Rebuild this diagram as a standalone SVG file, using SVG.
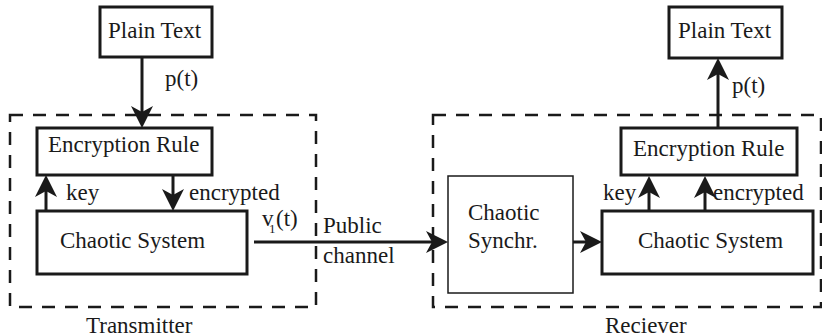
<svg xmlns="http://www.w3.org/2000/svg" width="822" height="336" viewBox="0 0 822 336">
<style>
text{font-family:'Liberation Serif','Times New Roman','DejaVu Serif',serif;font-size:23px;fill:#1a1a1a}
.box{fill:#fff;stroke:#1a1a1a;stroke-width:3}
.thin{fill:#fff;stroke:#1a1a1a;stroke-width:1.5}
.dash{fill:none;stroke:#1a1a1a;stroke-width:2.5;stroke-dasharray:13 10}
.conn line{stroke:#1a1a1a;stroke-width:3}
.conn polygon{fill:#1a1a1a;stroke:none}
</style>
<rect width="822" height="336" fill="#fff"/>
<g id="transmitter">
<rect class="dash" x="10" y="115" width="306" height="192"/>
<text x="86" y="333">Transmitter</text>
</g>
<g id="receiver">
<rect class="dash" x="433" y="115" width="388" height="192"/>
<text x="605" y="333">Reciever</text>
</g>
<g id="tx_plain"><rect class="box" x="100" y="7" width="112" height="50"/><text x="108" y="38">Plain Text</text></g>
<g id="tx_enc"><rect class="box" x="37" y="128" width="175" height="47"/><text x="48" y="152">Encryption Rule</text></g>
<g id="tx_chaos"><rect class="box" x="37" y="211" width="210" height="63"/><text x="60" y="248">Chaotic System</text></g>
<g id="rx_plain"><rect class="box" x="669" y="7" width="113" height="51"/><text x="678" y="38">Plain Text</text></g>
<g id="rx_enc"><rect class="box" x="621" y="128" width="176" height="47"/><text x="633" y="156">Encryption Rule</text></g>
<g id="rx_synch"><rect class="thin" x="448" y="176" width="125" height="117"/><text x="468" y="220">Chaotic</text><text x="468" y="248">Synchr.</text></g>
<g id="rx_chaos"><rect class="box" x="602" y="211" width="211" height="63"/><text x="638" y="248">Chaotic System</text></g>
<g id="connectors" class="conn">
<line x1="142" y1="57" x2="142" y2="114"/>
<polygon points="142,128 131,106 142,112 153,106"/>
<line x1="46" y1="211" x2="46" y2="189"/>
<polygon points="46,175 35,197 46,191 57,197"/>
<line x1="173" y1="175" x2="173" y2="197"/>
<polygon points="173,211 162,189 173,195 184,189"/>
<line x1="254" y1="242" x2="434" y2="242"/>
<polygon points="448,242 426,231 432,242 426,253"/>
<line x1="573" y1="242" x2="588" y2="242"/>
<polygon points="602,242 580,231 586,242 580,253"/>
<line x1="649" y1="211" x2="649" y2="190"/>
<polygon points="649,176 638,198 649,192 660,198"/>
<line x1="705" y1="211" x2="705" y2="190"/>
<polygon points="705,176 694,198 705,192 716,198"/>
<line x1="718" y1="128" x2="718" y2="72"/>
<polygon points="718,58 707,80 718,74 729,80"/>
</g>
<g id="labels">
<text x="165" y="86">p(t)</text>
<text x="66" y="200">key</text>
<text x="189" y="200">encrypted</text>
<text x="262" y="226">v</text><text x="269" y="233" style="font-size:13px">1</text><text x="276" y="226">(t)</text>
<text x="323" y="233">Public</text>
<text x="323" y="263">channel</text>
<text x="603" y="200">key</text>
<text x="713" y="200">encrypted</text>
<text x="732" y="93">p(t)</text>
</g>
</svg>
